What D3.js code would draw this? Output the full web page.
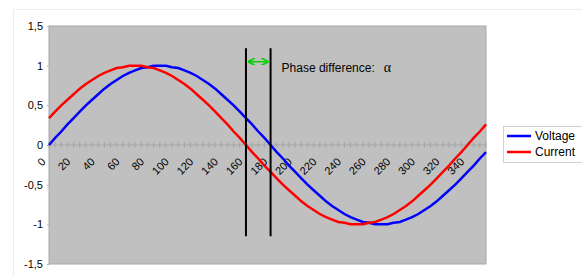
<!DOCTYPE html>
<html>
<head>
<meta charset="utf-8">
<script src="https://cdn.jsdelivr.net/npm/d3@7"></script>
<style>
  body { margin: 0; background: #fff; }
  text { font-family: "Liberation Sans", Arial, sans-serif; fill: #000; }
</style>
</head>
<body>
<script>
// angle categories, 0..355 step 5
var angles = [0,5,10,15,20,25,30,35,40,45,50,55,60,65,70,75,80,85,90,95,100,105,110,115,
  120,125,130,135,140,145,150,155,160,165,170,175,180,185,190,195,200,205,210,215,220,225,230,235,
  240,245,250,255,260,265,270,275,280,285,290,295,300,305,310,315,320,325,330,335,340,345,350,355];

var voltage = [0,0.09,0.17,0.26,0.34,0.42,0.5,0.57,0.64,0.71,0.77,0.82,0.87,0.91,0.94,0.97,0.98,1,
  1,1,0.98,0.97,0.94,0.91,0.87,0.82,0.77,0.71,0.64,0.57,0.5,0.42,0.34,0.26,0.17,0.09,
  0,-0.09,-0.17,-0.26,-0.34,-0.42,-0.5,-0.57,-0.64,-0.71,-0.77,-0.82,-0.87,-0.91,-0.94,-0.97,-0.98,-1,
  -1,-1,-0.98,-0.97,-0.94,-0.91,-0.87,-0.82,-0.77,-0.71,-0.64,-0.57,-0.5,-0.42,-0.34,-0.26,-0.17,-0.09];

var current = [0.34,0.42,0.5,0.57,0.64,0.71,0.77,0.82,0.87,0.91,0.94,0.97,0.98,1,
  1,1,0.98,0.97,0.94,0.91,0.87,0.82,0.77,0.71,0.64,0.57,0.5,0.42,0.34,0.26,0.17,0.09,
  0,-0.09,-0.17,-0.26,-0.34,-0.42,-0.5,-0.57,-0.64,-0.71,-0.77,-0.82,-0.87,-0.91,-0.94,-0.97,-0.98,-1,
  -1,-1,-0.98,-0.97,-0.94,-0.91,-0.87,-0.82,-0.77,-0.71,-0.64,-0.57,-0.5,-0.42,-0.34,-0.26,-0.17,-0.09,
  0,0.09,0.17,0.26];

var yTicks = [-1.5,-1,-0.5,0,0.5,1,1.5];
var xLabels = [0,20,40,60,80,100,120,140,160,180,200,220,240,260,280,300,320,340];

// phase markers: two vertical lines and the arrow between them
var markerAngles = [160, 180];
var markerRange = [1.22, -1.15];
var arrowValue = 1.05;

var series = [
  {name: "Voltage", values: voltage, color: "#0000ff"},
  {name: "Current", values: current, color: "#ff0000"}
];

var W = 582, H = 276;
var plot = {left: 49, top: 26, right: 486, bottom: 264};

var svg = d3.select("body").append("svg")
    .attr("width", W)
    .attr("height", H);

// outer chart border (faint)
svg.append("rect")
    .attr("x", 13.5).attr("y", 9.5)
    .attr("width", W).attr("height", H)
    .attr("fill", "none")
    .attr("stroke", "#ececec");

var x = d3.scaleLinear().domain([0, angles.length - 1]).range([plot.left, plot.right]);
var y = d3.scaleLinear().domain([-1.5, 1.5]).range([plot.bottom, plot.top]);
var xa = function(a) { return x(angles.indexOf(a)); };

// plot area
svg.append("rect")
    .attr("x", plot.left).attr("y", plot.top)
    .attr("width", plot.right - plot.left)
    .attr("height", plot.bottom - plot.top)
    .attr("fill", "#c0c0c0")
    .attr("stroke", "#a8a8a8")
    .attr("stroke-width", 1);

// y axis labels + tiny ticks
var yAxis = d3.axisLeft(y).tickValues(yTicks).tickSize(2).tickPadding(4)
    .tickFormat(function(d) { return String(d).replace(".", ","); });
var gy = svg.append("g").attr("transform", "translate(" + plot.left + ",0)").call(yAxis);
gy.select(".domain").remove();
gy.selectAll(".tick line").attr("stroke", "#b0b0b0");
gy.selectAll("text").style("font-size", "11px").attr("fill", "#000");

// x axis on zero line with small cross ticks
svg.append("line")
    .attr("x1", plot.left).attr("x2", plot.right)
    .attr("y1", y(0)).attr("y2", y(0))
    .attr("stroke", "#a6a6a6");
svg.append("g").selectAll("line")
    .data(angles)
    .join("line")
    .attr("x1", function(d, i) { return x(i); })
    .attr("x2", function(d, i) { return x(i); })
    .attr("y1", y(0) - 3).attr("y2", y(0) + 3)
    .attr("stroke", "#a6a6a6");

svg.append("g").selectAll("text")
    .data(xLabels)
    .join("text")
    .attr("transform", function(d) { return "translate(" + (xa(d) - 8) + "," + (y(0) + 12) + ") rotate(-45)"; })
    .attr("text-anchor", "end")
    .attr("dy", "0.7em")
    .style("font-size", "11px")
    .text(function(d) { return d; });

// lines
var line = d3.line()
    .x(function(d, i) { return x(i); })
    .y(function(d) { return y(d); });

svg.append("g").selectAll("path")
    .data(series)
    .join("path")
    .attr("d", function(d) { return line(d.values); })
    .attr("fill", "none")
    .attr("stroke", function(d) { return d.color; })
    .attr("stroke-width", 2.5);

// phase markers
svg.append("g").selectAll("line")
    .data(markerAngles)
    .join("line")
    .attr("x1", xa).attr("x2", xa)
    .attr("y1", y(markerRange[0])).attr("y2", y(markerRange[1]))
    .attr("stroke", "#000")
    .attr("stroke-width", 2);

var defs = svg.append("defs");
defs.append("marker")
    .attr("id", "ah")
    .attr("viewBox", "0 0 10 10")
    .attr("refX", 10).attr("refY", 5)
    .attr("markerWidth", 5).attr("markerHeight", 5)
    .attr("orient", "auto-start-reverse")
    .append("path")
    .attr("d", "M0,0 L10,5 L0,10")
    .attr("fill", "none")
    .attr("stroke", "#00d000")
    .attr("stroke-width", 2.2);

svg.append("line")
    .attr("x1", xa(markerAngles[0]) + 2).attr("x2", xa(markerAngles[1]) - 2)
    .attr("y1", y(arrowValue)).attr("y2", y(arrowValue))
    .attr("stroke", "#00d000")
    .attr("stroke-width", 1.5)
    .attr("marker-start", "url(#ah)")
    .attr("marker-end", "url(#ah)");

var note = svg.append("text")
    .attr("x", xa(markerAngles[1]) + 11)
    .attr("y", y(arrowValue) + 10)
    .style("font-size", "12px")
    .attr("fill", "#222");
note.append("tspan").text("Phase difference:");
note.append("tspan")
    .attr("dx", 9)
    .style("font-family", "'Liberation Serif', 'DejaVu Serif', serif")
    .style("font-size", "14px")
    .text("α");

// legend
var lg = svg.append("g").attr("transform", "translate(503,126)");
lg.append("rect")
    .attr("x", 0.5).attr("y", 0.5)
    .attr("width", 100).attr("height", 36)
    .attr("fill", "#fff")
    .attr("stroke", "#d0d0d0");
var item = lg.selectAll("g.item")
    .data(series)
    .join("g")
    .attr("class", "item")
    .attr("transform", function(d, i) { return "translate(0," + (10 + i * 16) + ")"; });
item.append("line")
    .attr("x1", 4).attr("x2", 28)
    .attr("stroke", function(d) { return d.color; })
    .attr("stroke-width", 2.5);
item.append("text")
    .attr("x", 32)
    .attr("dy", "0.35em")
    .style("font-size", "12px")
    .text(function(d) { return d.name; });
</script>
</body>
</html>
